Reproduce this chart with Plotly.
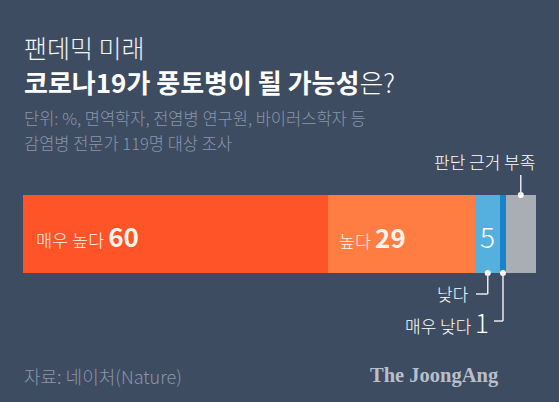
import plotly.graph_objects as go

# Survey answers (percent), left to right along the stacked bar
categories = ["매우 높다", "높다", "낮다", "매우 낮다", "판단 근거 부족"]
values = [60, 29, 5, 1, 6]
colors = ["#ff5427", "#ff7c43", "#56b0de", "#1683cc", "#a9adb4"]

W, H = 559, 402
L, R, T, B = 23, 23, 195, 129          # plot area == bar rectangle
PW, PH = W - L - R, H - T - B
total = sum(values)

BG = "#3e4c61"
KR = "Noto Sans CJK KR"


def px(x):
    return (x - L) / PW


def py(y):
    return (H - B - y) / PH


fig = go.Figure()
base = 0
starts = []
for cat, v, c in zip(categories, values, colors):
    starts.append(base)
    fig.add_trace(go.Bar(
        y=[0], x=[v], base=[base], orientation="h", name=cat,
        marker=dict(color=c, line=dict(width=0)), width=1,
        hoverinfo="skip", showlegend=False,
    ))
    base += v
centers = [s + v / 2 for s, v in zip(starts, values)]

ann = []


def text(x, y, t, size, color="#ffffff", xanchor="left", weight=400, family=KR):
    ann.append(dict(xref="paper", yref="paper", x=px(x), y=py(y), text=t,
                    showarrow=False, xanchor=xanchor, yanchor="middle",
                    font=dict(family=family, size=size, color=color, weight=weight)))


# Heading
text(22, 47, "팬데믹 미래", 25, "#f2f4f7", weight=300)
text(22, 82, "<b>코로나19가 풍토병이 될 가능성</b>은?", 26, "#ffffff", weight=300)
text(22, 118, "단위: %, 면역학자, 전염병 연구원, 바이러스학자 등", 16.5, "#8896a9", weight=300)
text(22, 143, "감염병 전문가 119명 대상 조사", 16.5, "#8896a9", weight=300)

# Value labels inside the bar
text(34, 235, f"{categories[0]} <span style='font-size:26px;font-weight:700'>{values[0]}</span>",
     17.5, "#fff3ee", weight=300)
text(337, 236, f"{categories[1]} <span style='font-size:26px;font-weight:700'>{values[1]}</span>",
     17.5, "#fff3ee", weight=300)
ann.append(dict(xref="x", yref="paper", x=centers[2], y=py(236), text=str(values[2]),
                showarrow=False, xanchor="center", yanchor="middle",
                font=dict(family=KR, size=28, color="#ffffff", weight=300)))

# Call-out labels outside the bar
text(537, 161, categories[4], 17, "#ffffff", xanchor="right", weight=300)
text(471, 293, categories[2], 17, "#ffffff", xanchor="right", weight=300)
text(491, 321, f"{categories[3]} <span style='font-size:26px'>{values[3]}</span>",
     17, "#ffffff", xanchor="right", weight=300)

# Footer
text(22, 376, "자료: 네이처(Nature)", 18, "#8896a9", weight=300)
text(501, 375, "<b>The JoongAng</b>", 20.5, "#b8bfca", xanchor="right",
     family="Liberation Serif")

fig.update_layout(annotations=ann)

# Leader lines
LC = "#e6e9ee"
shapes = []


def seg(x0, y0, x1, y1, xref="x"):
    shapes.append(dict(type="line", xref=xref, yref="paper", x0=x0, x1=x1,
                       y0=py(y0), y1=py(y1), line=dict(color=LC, width=1.5)))


seg(centers[4], 175, centers[4], 195)
seg(centers[2], 273, centers[2], 294)
shapes.append(dict(type="line", xref="paper", yref="paper",
                   x0=px(476), x1=px(L + PW * centers[2] / total),
                   y0=py(294), y1=py(294), line=dict(color=LC, width=1.5)))
seg(centers[3], 273, centers[3], 321)
shapes.append(dict(type="line", xref="paper", yref="paper",
                   x0=px(494), x1=px(L + PW * centers[3] / total),
                   y0=py(321), y1=py(321), line=dict(color=LC, width=1.5)))
fig.update_layout(shapes=shapes)

# Anchor dots on the bar edges
fig.add_trace(go.Scatter(
    x=[centers[4], centers[2], centers[3]], y=[0.5, -0.5, -0.5],
    mode="markers", cliponaxis=False, hoverinfo="skip", showlegend=False,
    marker=dict(size=6, color="#ffffff", line=dict(width=0)),
))

fig.update_layout(
    width=W, height=H,
    margin=dict(l=L, r=R, t=T, b=B, pad=0),
    paper_bgcolor=BG, plot_bgcolor=BG,
    barmode="overlay", bargap=0,
    xaxis=dict(range=[0, total], visible=False, fixedrange=True),
    yaxis=dict(range=[-0.5, 0.5], visible=False, fixedrange=True),
)

fig.write_html("out.html", config={"displayModeBar": False})
